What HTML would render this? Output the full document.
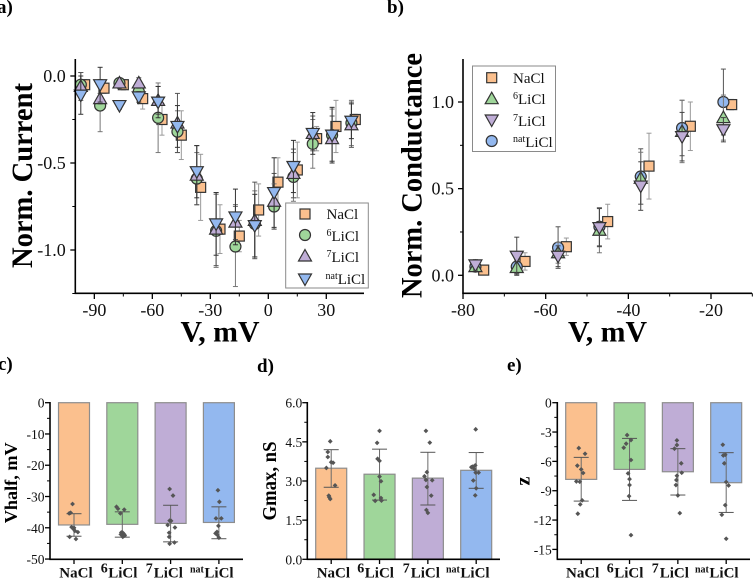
<!DOCTYPE html>
<html lang="en">
<head>
<meta charset="utf-8">
<title>Norm. current and conductance for NaCl and LiCl isotopes</title>
<style>
html,body{margin:0;padding:0;background:#fff;}
body{width:753px;height:578px;overflow:hidden;}
svg{display:block;font-family:"Liberation Serif",serif;filter:blur(0.35px);}
.t18{font-size:18px;fill:#111;}
.t14{font-size:13.5px;fill:#111;}
.title{font-weight:bold;fill:#000;}
.leg{font-size:15px;fill:#111;}
.cat{font-size:15px;font-weight:bold;fill:#111;}
.sup{font-size:10px;}
.csup{font-size:14px;}
</style>
</head>
<body>
<svg id="figure" width="753" height="578" viewBox="0 0 753 578" xmlns="http://www.w3.org/2000/svg">
  <g id="marks"></g>

  <text class="title" x="-3" y="13" font-size="19">a)</text>
  <text class="title" x="387" y="13" font-size="19">b)</text>
  <text class="title" x="-2" y="370" font-size="19">c)</text>
  <text class="title" x="257" y="372" font-size="19">d)</text>
  <text class="title" x="507" y="371" font-size="19">e)</text>

  <text class="title" font-size="30" text-anchor="middle" textLength="185" lengthAdjust="spacingAndGlyphs" transform="translate(32,175.5) rotate(-90)">Norm. Current</text>
  <text class="title" font-size="30" text-anchor="middle" textLength="79" lengthAdjust="spacingAndGlyphs" x="220" y="341.5">V, mV</text>
  <text class="title" font-size="30" text-anchor="middle" textLength="245" lengthAdjust="spacingAndGlyphs" transform="translate(421.5,175.5) rotate(-90)">Norm. Conductance</text>
  <text class="title" font-size="30" text-anchor="middle" textLength="79" lengthAdjust="spacingAndGlyphs" x="607.5" y="341.5">V, mV</text>
  <text class="title" font-size="18" text-anchor="middle" textLength="81" lengthAdjust="spacingAndGlyphs" transform="translate(17,482.8) rotate(-90)">Vhalf, mV</text>
  <text class="title" font-size="19.5" text-anchor="middle" textLength="79" lengthAdjust="spacingAndGlyphs" transform="translate(276,481) rotate(-90)">Gmax, nS</text>
  <text class="title" font-size="20" text-anchor="middle" transform="translate(529.3,481) rotate(-90)">z</text>

  <g>
    <text class="cat" x="59.3" y="577.5">NaCl</text>
    <text class="cat" x="100.7" y="577.5"><tspan class="csup" dy="-5">6</tspan><tspan dx="0.5" dy="5">LiCl</tspan></text>
    <text class="cat" x="145.7" y="577.5"><tspan class="csup" dy="-5">7</tspan><tspan dx="1" dy="5">LiCl</tspan></text>
    <text class="cat" x="190" y="577.5"><tspan class="sup" dy="-5">nat</tspan><tspan dx="0.5" dy="5">LiCl</tspan></text>
  </g>
  <g>
    <text class="cat" x="316.7" y="577.5">NaCl</text>
    <text class="cat" x="357.3" y="577.5"><tspan class="csup" dy="-5">6</tspan><tspan dx="0.5" dy="5">LiCl</tspan></text>
    <text class="cat" x="402.7" y="577.5"><tspan class="csup" dy="-5">7</tspan><tspan dx="1" dy="5">LiCl</tspan></text>
    <text class="cat" x="446" y="577.5"><tspan class="sup" dy="-5">nat</tspan><tspan dx="0.5" dy="5">LiCl</tspan></text>
  </g>
  <g>
    <text class="cat" x="566" y="577.5">NaCl</text>
    <text class="cat" x="606.7" y="577.5"><tspan class="csup" dy="-5">6</tspan><tspan dx="0.5" dy="5">LiCl</tspan></text>
    <text class="cat" x="651.7" y="577.5"><tspan class="csup" dy="-5">7</tspan><tspan dx="1" dy="5">LiCl</tspan></text>
    <text class="cat" x="695" y="577.5"><tspan class="sup" dy="-5">nat</tspan><tspan dx="0.5" dy="5">LiCl</tspan></text>
  </g>
  <g id="legends"></g>
  <g>
    <text class="leg" x="326.5" y="219">NaCl</text>
    <text class="leg" x="326.5" y="241"><tspan class="sup" dy="-5">6</tspan><tspan dy="5">LiCl</tspan></text>
    <text class="leg" x="326.5" y="262"><tspan class="sup" dy="-5">7</tspan><tspan dy="5">LiCl</tspan></text>
    <text class="leg" x="325.5" y="284"><tspan class="sup" dy="-5">nat</tspan><tspan dy="5">LiCl</tspan></text>
    <text class="leg" x="513" y="83">NaCl</text>
    <text class="leg" x="513" y="104"><tspan class="sup" dy="-5">6</tspan><tspan dy="5">LiCl</tspan></text>
    <text class="leg" x="513" y="126"><tspan class="sup" dy="-5">7</tspan><tspan dy="5">LiCl</tspan></text>
    <text class="leg" x="513" y="147"><tspan class="sup" dy="-5">nat</tspan><tspan dy="5">LiCl</tspan></text>
  </g>
</svg>
<script>
// ---- Panel a: I-V curves ----
const aVoltageNaCl = [-95,-85,-75,-65,-55,-45,-35,-25,-15,-5,5,15,25,35,45];
const aVoltageLi = [-97,-87,-77,-67,-57,-47,-37,-27,-17,-7,3,13,23,33,43];
const aNaCl = [-0.05,-0.07,-0.05,-0.13,-0.25,-0.34,-0.64,-0.88,-0.92,-0.77,-0.61,-0.54,-0.36,-0.29,-0.25];
const a6Li = [-0.05,-0.17,-0.04,-0.09,-0.24,-0.32,-0.59,-0.89,-0.98,-0.85,-0.75,-0.58,-0.39,-0.34,-0.27];
const a7Li = [-0.06,-0.13,-0.04,-0.04,-0.14,-0.27,-0.57,-0.88,-0.84,-0.83,-0.72,-0.56,-0.33,-0.36,-0.28];
const aNat = [-0.11,-0.05,-0.17,-0.12,-0.15,-0.29,-0.55,-0.85,-0.81,-0.86,-0.67,-0.52,-0.33,-0.34,-0.26];
const aNaClErr = [0.03,0.03,0.03,0.06,0.09,0.14,0.19,0.14,0.09,0.15,0.14,0.16,0.07,0.15,0.03];
const a6LiErr = [0.07,0.15,0.02,0.03,0.20,0.12,0.15,0.21,0.23,0.19,0.13,0.14,0.14,0.15,0.13];
const a7LiErr = [0.08,0.03,0.03,0.03,0.08,0.17,0.17,0.21,0.10,0.22,0.16,0.14,0.10,0.13,0.13];
const aNatErr = [0.11,0.10,0.02,0.03,0.09,0.12,0.15,0.18,0.16,0.18,0.20,0.15,0.12,0.16,0.10];
const aXTicks = [-90,-60,-30,0,30];
const aYTicks = [0,-0.5,-1];

// ---- Panel b: conductance ----
const bVoltageNaCl = [-75,-65,-55,-45,-35,-25,-15];
const bVoltageLi = [-77,-67,-57,-47,-37,-27,-17];
const bNaCl = [0.03,0.08,0.165,0.31,0.63,0.86,0.985];
const b6Li = [0.05,0.045,0.13,0.26,0.56,0.83,0.91];
const b7Li = [0.06,0.11,0.11,0.275,0.515,0.80,0.84];
const bNat = [0.05,0.05,0.16,0.28,0.57,0.85,1.0];
const bNaClErr = [0.02,0.05,0.05,0.10,0.19,0.14,0.03];
const b6LiErr = [0.03,0.04,0.06,0.13,0.15,0.18,0.13];
const b7LiErr = [0.03,0.11,0.06,0.11,0.14,0.14,0.07];
const bNatErr = [0.03,0.04,0.12,0.11,0.16,0.16,0.19];
const bXTicks = [-80,-60,-40,-20];
const bYTicks = [0,0.5,1];

// ---- Bar panels: means, SD limits, and [category offset, value] dots ----
const cMeans = [-39.1,-38.9,-38.6,-38.3];
const cErrHigh = [-35.5,-34.9,-32.8,-33.3];
const cErrLow = [-42.7,-43,-44.5,-43.5];
const cTicks = [0,-10,-20,-30,-40,-50];
const cDotsNaCl = [[-.03,-32.4],[-.10,-35.4],[-.07,-35.2],[-.05,-39.8],[0,-40],[-.01,-40.4],[.02,-41],[.08,-41.4],[-.09,-42.9],[.04,-43.6]];
const cDots6Li = [[-.12,-33.3],[-.09,-33.9],[.04,-34.2],[-.04,-35.4],[-.02,-41.5],[.01,-41.6],[-.03,-42.1],[.04,-42.1],[.01,-42.9],[.05,-42.5]];
const cDots7Li = [[-.02,-27.6],[.05,-29.7],[-.02,-37.7],[.01,-37.8],[-.06,-39.1],[.09,-39.9],[-.03,-41.6],[-.03,-42.9],[.08,-44.7],[-.02,-45.1]];
const cDotsNat = [[-.02,-28],[.01,-31.7],[-.06,-37],[.05,-37],[-.01,-39.4],[-.04,-41.3],[-.07,-41.8],[-.03,-42.3],[0,-43.2]];

const dMeans = [3.49,3.26,3.11,3.41];
const dErrHigh = [4.2,4.22,4.1,4.09];
const dErrLow = [2.76,2.27,2.08,2.72];
const dTicks = [0,1.5,3,4.5,6];
const dDotsNaCl = [[-.02,4.52],[-.07,4.11],[-.07,3.92],[0,3.72],[.04,3.7],[-.10,3.5],[.08,2.83],[-.05,2.44],[-.04,2.38],[-.02,2.31]];
const dDots6Li = [[0,4.92],[-.05,4.46],[-.04,3.85],[0,3.77],[0,3.17],[.03,2.99],[-.12,2.47],[.03,2.35],[-.09,2.24],[.04,2.25]];
const dDots7Li = [[-.04,4.92],[.04,4.47],[-.02,3.34],[-.07,3.18],[-.04,3.04],[.09,3.03],[-.02,2.77],[.07,2.44],[-.03,1.89],[0,1.78]];
const dDotsNat = [[-.01,4.98],[-.02,3.6],[-.07,3.55],[-.10,3.53],[-.04,3.46],[-.01,3.32],[.05,3.32],[-.06,3.02],[0,2.72],[-.02,2.45]];

const eMeans = [-7.84,-6.82,-7.06,-8.18];
const eErrHigh = [-5.59,-3.65,-4.7,-5.11];
const eErrLow = [-10.06,-9.99,-9.44,-11.22];
const eTicks = [0,-3,-6,-9,-12,-15];
const eDotsNaCl = [[-.05,-4.64],[.08,-5.22],[-.08,-6.44],[0,-6.82],[.04,-7.19],[-.10,-8.05],[-.03,-8.08],[.02,-9.99],[-.02,-10.4],[-.07,-11.35]];
const eDots6Li = [[-.05,-3.31],[.03,-3.82],[-.07,-4.19],[-.12,-4.6],[.03,-5.86],[-.03,-7.23],[0,-7.81],[0,-8.42],[-.01,-9.55],[.03,-13.54]];
const eDots7Li = [[-.02,-3.85],[-.02,-4.33],[-.07,-4.7],[.07,-6.2],[.08,-7.16],[-.02,-7.47],[-.03,-7.91],[-.04,-8.42],[0,-9.48],[.04,-11.29]];
const eDotsNat = [[-.07,-4.3],[-.02,-5.32],[-.06,-5.39],[-.04,-6.2],[0,-8.11],[.05,-8.46],[-.02,-10.47],[-.09,-11.46],[0,-13.91]];

const ORANGE = '#fbc08e', GREEN = '#9fd69a', PURPLE = '#bfadd6', BLUE = '#93b8ef';
const NS = 'http://www.w3.org/2000/svg';
const root = document.getElementById('marks');
const legends = document.getElementById('legends');

function mk(tag, attrs, parent, name, interactable) {
  const el = document.createElementNS(NS, tag);
  for (const k in attrs) el.setAttribute(k, attrs[k]);
  
  
  parent.appendChild(el);
  return el;
}
function group(parent, name) { return mk('g', {}, parent, name, false); }
function line(parent, x1, y1, x2, y2, stroke, w, name) {
  return mk('line', {x1, y1, x2, y2, stroke, 'stroke-width': w}, parent, name, false);
}
function label(parent, x, y, str, cls, anchor, name) {
  const t = mk('text', {x, y, class: cls, 'text-anchor': anchor}, parent, name, false);
  t.textContent = str;
  return t;
}
function marker(parent, kind, cx, cy, fill, name) {
  const base = {fill, stroke: '#333', 'stroke-width': 1.2};
  if (kind === 'square') return mk('rect', {...base, x: cx - 5, y: cy - 5, width: 10, height: 10}, parent, name, false);
  if (kind === 'circle') return mk('circle', {...base, cx, cy, r: 5.5}, parent, name, false);
  const s = kind === 'up' ? 1 : -1;
  const pts = [[cx, cy - 6.5 * s], [cx + 6.5, cy + 5 * s], [cx - 6.5, cy + 5 * s]].map(p => p.join(',')).join(' ');
  return mk('polygon', {...base, points: pts}, parent, name, false);
}

function scatterSeries(parent, name, xs, ys, errs, xA, yA, kind, fill, errColor) {
  const g = group(parent, name);
  xs.forEach((x, i) => {
    const px = xA(x), hi = yA(ys[i] + errs[i]), lo = yA(ys[i] - errs[i]);
    line(g, px, hi, px, lo, errColor, 1, name + '-error-bar');
    line(g, px - 2.5, hi, px + 2.5, hi, errColor, 1, name + '-error-cap');
    line(g, px - 2.5, lo, px + 2.5, lo, errColor, 1, name + '-error-cap');
  });
  xs.forEach((x, i) => marker(g, kind, xA(x), yA(ys[i]), fill, name + '-point'));
}

function yAxis(parent, prefix, x, top, bottom, ticks, yA, minorStep, minV, maxV, digits, cls, off, dy) {
  const g = group(parent, prefix + '-y-axis');
  line(g, x, top, x, bottom, '#000', 1.6, prefix + '-y-axis-line');
  ticks.forEach(v => {
    line(g, x - 5, yA(v), x, yA(v), '#000', 1.3, prefix + '-y-tick');
    label(g, x - off, yA(v) + dy, v.toFixed(digits), cls, 'end', prefix + '-y-tick-label');
  });
  const n = Math.round((maxV - minV) / minorStep);
  for (let i = 0; i <= n; i++) {
    const v = minV + i * minorStep;
    if (!ticks.some(t => Math.abs(t - v) < 1e-6)) line(g, x - 3, yA(v), x, yA(v), '#000', 1, prefix + '-y-minor-tick');
  }
}

// --- Panel a ---
const ax = v => 268.3 + 1.933 * v;
const ay = v => 76 - 174 * v;
const pa = group(root, 'panel-a-current-voltage');
scatterSeries(pa, 'a-nacl', aVoltageNaCl, aNaCl, aNaClErr, ax, ay, 'square', ORANGE, '#999');
scatterSeries(pa, 'a-6licl', aVoltageLi, a6Li, a6LiErr, ax, ay, 'circle', GREEN, '#777');
scatterSeries(pa, 'a-7licl', aVoltageLi, a7Li, a7LiErr, ax, ay, 'up', PURPLE, '#555');
scatterSeries(pa, 'a-natlicl', aVoltageLi, aNat, aNatErr, ax, ay, 'down', BLUE, '#333');
yAxis(pa, 'a', 75.3, 59, 293.5, aYTicks, ay, 0.25, -1.25, 0, 1, 't18', 9.5, 6);
const axg = group(pa, 'a-x-axis');
line(axg, 74.6, 293.3, 364, 293.3, '#000', 1.6, 'a-x-axis-line');
aXTicks.forEach(v => {
  line(axg, ax(v), 293.3, ax(v), 299, '#000', 1.3, 'a-x-tick');
  label(axg, ax(v), 316, String(v), 't18', 'middle', 'a-x-tick-label');
  if (v < 30) line(axg, ax(v + 15), 293.3, ax(v + 15), 296.5, '#000', 1, 'a-x-minor-tick');
});
mk('rect', {x: 285.7, y: 203, width: 82.6, height: 85, fill: '#fff', stroke: '#8a8a8a', 'stroke-width': 1}, legends, 'a-legend-box', false);
marker(legends, 'square', 305, 214, ORANGE, 'a-legend-marker-nacl');
marker(legends, 'circle', 305, 235, GREEN, 'a-legend-marker-6licl');
marker(legends, 'up', 305, 256, PURPLE, 'a-legend-marker-7licl');
marker(legends, 'down', 305, 279, BLUE, 'a-legend-marker-natlicl');

// --- Panel b ---
const bx = v => 711 + 4.133 * (v + 20);
const by = v => 275.3 - 173.3 * v;
const pb = group(root, 'panel-b-conductance');
scatterSeries(pb, 'b-nacl', bVoltageNaCl, bNaCl, bNaClErr, bx, by, 'square', ORANGE, '#999');
scatterSeries(pb, 'b-natlicl', bVoltageLi, bNat, bNatErr, bx, by, 'circle', BLUE, '#555');
scatterSeries(pb, 'b-6licl', bVoltageLi, b6Li, b6LiErr, bx, by, 'up', GREEN, '#777');
scatterSeries(pb, 'b-7licl', bVoltageLi, b7Li, b7LiErr, bx, by, 'down', PURPLE, '#444');
yAxis(pb, 'b', 463, 59, 293.8, bYTicks, by, 0.25, 0, 1, 1, 't18', 9, 6);
const bxg = group(pb, 'b-x-axis');
line(bxg, 462.3, 293.3, 752, 293.3, '#000', 1.6, 'b-x-axis-line');
bXTicks.forEach(v => {
  line(bxg, bx(v), 293.3, bx(v), 299, '#000', 1.3, 'b-x-tick');
  label(bxg, bx(v), 316, String(v), 't18', 'middle', 'b-x-tick-label');
  line(bxg, bx(v + 10), 293.3, bx(v + 10), 296.5, '#000', 1, 'b-x-minor-tick');
});
mk('rect', {x: 472.5, y: 66, width: 83, height: 85.5, fill: '#fff', stroke: '#8a8a8a', 'stroke-width': 1}, legends, 'b-legend-box', false);
marker(legends, 'square', 491.7, 77.7, ORANGE, 'b-legend-marker-nacl');
marker(legends, 'up', 491.7, 98.7, GREEN, 'b-legend-marker-6licl');
marker(legends, 'down', 491.7, 120, PURPLE, 'b-legend-marker-7licl');
marker(legends, 'circle', 491.7, 141, BLUE, 'b-legend-marker-natlicl');

// --- Bar panels ---
const barFills = [ORANGE, GREEN, PURPLE, BLUE];
const barNames = ['nacl', '6licl', '7licl', 'natlicl'];
function barPanel(prefix, axisX, rightX, firstCenter, spacing, yA, means, hi, lo, dotSets) {
  const p = group(root, 'panel-' + prefix + '-bars');
  const cx = i => firstCenter + i * spacing;
  means.forEach((m, i) => {
    const y0 = yA(0), y1 = yA(m);
    mk('rect', {x: cx(i) - 15.5, y: Math.min(y0, y1), width: 31, height: Math.abs(y1 - y0), fill: barFills[i], stroke: '#8d8d8d', 'stroke-width': 1.2}, p, prefix + '-bar-' + barNames[i], false);
  });
  means.forEach((m, i) => {
    const g = group(p, prefix + '-error-' + barNames[i]);
    line(g, cx(i), yA(hi[i]), cx(i), yA(lo[i]), '#6a6a6a', 1, prefix + '-error-bar');
    line(g, cx(i) - 7.5, yA(hi[i]), cx(i) + 7.5, yA(hi[i]), '#555', 1, prefix + '-error-cap');
    line(g, cx(i) - 7.5, yA(lo[i]), cx(i) + 7.5, yA(lo[i]), '#555', 1, prefix + '-error-cap');
  });
  dotSets.forEach((dots, i) => {
    const g = group(p, prefix + '-dots-' + barNames[i]);
    dots.forEach(d => {
      const x = cx(i + d[0]), y = yA(d[1]);
      mk('polygon', {points: [[x, y - 2.4], [x + 2.4, y], [x, y + 2.4], [x - 2.4, y]].map(q => q.join(',')).join(' '), fill: '#555'}, g, prefix + '-dot', false);
    });
  });
  const xg = group(p, prefix + '-x-axis');
  line(xg, axisX - 0.7, 559.3, rightX, 559.3, '#000', 1.6, prefix + '-x-axis-line');
  means.forEach((m, i) => line(xg, cx(i), 559.3, cx(i), 564, '#000', 1.3, prefix + '-x-tick'));
  return p;
}

const cy = v => 402.7 - 3.127 * v;
const dy = v => 559.3 - 26.1 * v;
const ey = v => 402.7 - 9.78 * v;
const pc = barPanel('c', 50, 243, 74, 48.3, cy, cMeans, cErrHigh, cErrLow, [cDotsNaCl, cDots6Li, cDots7Li, cDotsNat]);
yAxis(pc, 'c', 50, 402, 559.3, cTicks, cy, 5, -50, 0, 0, 't14', 5.5, 5);
const pd = barPanel('d', 307.3, 500, 331.2, 48.33, dy, dMeans, dErrHigh, dErrLow, [dDotsNaCl, dDots6Li, dDots7Li, dDotsNat]);
yAxis(pd, 'd', 307.3, 402, 559.3, dTicks, dy, 0.75, 0, 6, 1, 't14', 5, 5);
const pe = barPanel('e', 557.3, 750, 581.2, 48.33, ey, eMeans, eErrHigh, eErrLow, [eDotsNaCl, eDots6Li, eDots7Li, eDotsNat]);
yAxis(pe, 'e', 557.3, 402, 559.3, eTicks, ey, 1.5, -15, 0, 0, 't14', 5.5, 5);
</script>
</body>
</html>
